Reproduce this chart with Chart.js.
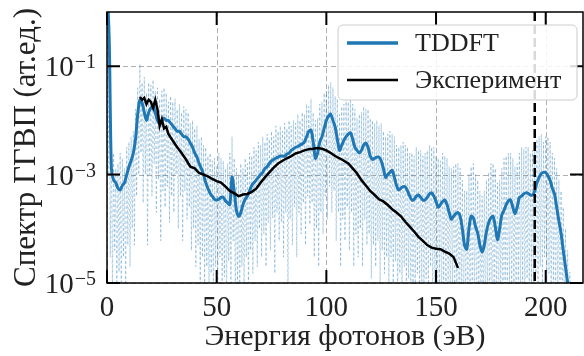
<!DOCTYPE html>
<html>
<head>
<meta charset="utf-8">
<script src="https://cdn.jsdelivr.net/npm/chart.js@4.4.1/dist/chart.umd.min.js"></script>
<style>
  html, body { margin: 0; padding: 0; background: #fff; }
  #wrap { width: 584px; height: 356px; }
</style>
</head>
<body>
<div id="wrap"><canvas id="hhgChart" width="584" height="356"></canvas></div>
<script>
/* DATA */
// TDDFT spectrum on a 1 eV grid starting at 0 eV
const tddftStart = 0;
const tddftStep = 1;
// smoothed curve (thick line)
const tddftSmooth = [
  3.2, 0.32, 1.3e-3, 7.9e-4, 7.1e-4, 5.6e-4, 5.2e-4, 6.3e-4, 7.1e-4, 1.0e-3,
  1.4e-3, 1.8e-3, 2.5e-3, 4.5e-3, 1.3e-2, 2.4e-2, 2.1e-2, 1.4e-2, 1.0e-2, 1.4e-2,
  1.7e-2, 1.8e-2, 1.4e-2, 1.0e-2, 8.9e-3, 1.0e-2, 1.1e-2, 1.0e-2, 1.0e-2, 8.9e-3,
  7.9e-3, 7.1e-3, 6.3e-3, 6.3e-3, 5.6e-3, 5.0e-3, 5.0e-3, 4.5e-3, 3.8e-3, 3.2e-3,
  2.5e-3, 2.1e-3, 1.6e-3, 1.3e-3, 1.0e-3, 7.1e-4, 5.6e-4, 4.5e-4, 4.0e-4, 3.5e-4,
  3.4e-4, 3.5e-4, 3.8e-4, 3.8e-4, 3.3e-4, 3.0e-4, 2.8e-4, 9.0e-4, 5.0e-4, 2.2e-4,
  1.7e-4, 2.0e-4, 2.8e-4, 3.5e-4, 4.0e-4, 5.0e-4, 6.3e-4, 7.1e-4, 7.9e-4, 8.9e-4,
  1.0e-3, 1.1e-3, 1.3e-3, 1.4e-3, 1.6e-3, 1.8e-3, 1.9e-3, 2.0e-3, 2.1e-3, 2.2e-3,
  2.2e-3, 2.2e-3, 2.4e-3, 2.5e-3, 2.8e-3, 3.0e-3, 3.2e-3, 3.3e-3, 3.5e-3, 3.7e-3,
  4.0e-3, 5.0e-3, 6.3e-3, 6.6e-3, 4.0e-3, 2.0e-3, 2.5e-3, 4.0e-3, 5.0e-3, 7.1e-3,
  1.0e-2, 1.2e-2, 1.3e-2, 1.0e-2, 7.6e-3, 4.5e-3, 2.8e-3, 3.5e-3, 4.3e-3, 5.0e-3,
  5.6e-3, 5.9e-3, 4.5e-3, 3.2e-3, 2.8e-3, 2.5e-3, 2.8e-3, 3.5e-3, 3.8e-3, 3.2e-3,
  2.2e-3, 1.9e-3, 2.0e-3, 2.1e-3, 2.1e-3, 1.8e-3, 1.3e-3, 8.9e-4, 1.0e-3, 1.1e-3,
  1.2e-3, 8.9e-4, 6.3e-4, 5.2e-4, 5.6e-4, 6.0e-4, 5.9e-4, 5.0e-4, 4.0e-4, 3.4e-4,
  3.5e-4, 4.0e-4, 4.2e-4, 3.8e-4, 3.4e-4, 3.4e-4, 3.8e-4, 4.4e-4, 4.6e-4, 4.0e-4,
  3.2e-4, 2.5e-4, 2.8e-4, 3.2e-4, 3.4e-4, 2.8e-4, 2.0e-4, 1.5e-4, 1.7e-4, 1.9e-4,
  2.0e-4, 1.7e-4, 1.0e-4, 5.0e-5, 4.2e-5, 1.0e-4, 1.7e-4, 1.6e-4, 1.1e-4, 8.3e-5,
  5.0e-5, 3.7e-5, 5.0e-5, 8.9e-5, 1.3e-4, 1.6e-4, 1.7e-4, 1.1e-4, 6.3e-5, 1.0e-4,
  1.8e-4, 2.2e-4, 2.8e-4, 3.3e-4, 3.4e-4, 2.5e-4, 1.9e-4, 2.5e-4, 3.8e-4, 4.0e-4,
  4.4e-4, 4.6e-4, 4.5e-4, 4.2e-4, 4.2e-4, 5.0e-4, 7.1e-4, 8.9e-4, 1.05e-3, 1.1e-3,
  1.1e-3, 9.5e-4, 7.9e-4, 5.6e-4, 4.4e-4, 2.5e-4, 1.4e-4, 8.3e-5, 4.0e-5, 2.0e-5,
  1.0e-5, 5.0e-6
];
// raw (unsmoothed) spectrum: local maxima at whole eV ...
const tddftRawPeak = [
  3, 0.2, 5e-3, 2.5e-3, 1.3e-3, 1.6e-3, 2.5e-3, 2.0e-3, 1.3e-3, 3.2e-3,
  4e-3, 5e-3, 6.3e-3, 1.6e-2, 4e-2, 1.1e-1, 5e-2, 6.3e-2, 3.2e-2, 5e-2,
  4.5e-2, 5.6e-2, 3.5e-2, 4e-2, 2.5e-2, 3.5e-2, 4e-2, 3.2e-2, 2.2e-2, 2.8e-2,
  2.2e-2, 2.5e-2, 1.6e-2, 2e-2, 1.4e-2, 1.8e-2, 1.6e-2, 1.4e-2, 8.9e-3, 1e-2,
  7.1e-3, 7.9e-3, 4.5e-3, 5e-3, 3.5e-3, 3.2e-3, 2.2e-3, 2.5e-3, 1.8e-3, 2e-3,
  1.4e-3, 2.5e-3, 2e-3, 1.8e-3, 1.3e-3, 1.6e-3, 2.5e-3, 5e-3, 2e-3, 1.3e-3,
  1e-3, 1.6e-3, 1.3e-3, 2e-3, 1.6e-3, 2.5e-3, 2.2e-3, 3.2e-3, 2.8e-3, 4e-3,
  3.5e-3, 5e-3, 4e-3, 5.6e-3, 4.5e-3, 6.3e-3, 5e-3, 7.9e-3, 6.3e-3, 7.9e-3,
  6.3e-3, 8.9e-3, 7.1e-3, 1e-2, 7.9e-3, 1e-2, 8.9e-3, 1.3e-2, 1e-2, 1.4e-2,
  1.3e-2, 2e-2, 1.8e-2, 2.5e-2, 1.4e-2, 1e-2, 1.1e-2, 2e-2, 2.2e-2, 3.2e-2,
  3.5e-2, 4.5e-2, 5e-2, 4e-2, 2.8e-2, 2.5e-2, 1.3e-2, 1.8e-2, 2e-2, 2.5e-2,
  2.2e-2, 2.8e-2, 2e-2, 1.6e-2, 1.1e-2, 1.3e-2, 1.4e-2, 1.8e-2, 1.6e-2, 1.6e-2,
  1.1e-2, 1e-2, 8.9e-3, 1e-2, 7.9e-3, 8.9e-3, 6.3e-3, 5e-3, 5.6e-3, 6.3e-3,
  5.6e-3, 5e-3, 3.5e-3, 3.2e-3, 3.5e-3, 4e-3, 3.5e-3, 3.2e-3, 2.5e-3, 2.5e-3,
  2.2e-3, 3.2e-3, 2.8e-3, 2.8e-3, 2.2e-3, 2.5e-3, 2.8e-3, 3.5e-3, 3.2e-3, 3.2e-3,
  2.2e-3, 2e-3, 1.8e-3, 2.5e-3, 2.2e-3, 2e-3, 1.4e-3, 1.3e-3, 1.4e-3, 1.6e-3,
  1.6e-3, 1.3e-3, 7.9e-4, 5e-4, 5e-4, 1e-3, 1.4e-3, 1.6e-3, 1e-3, 7.9e-4,
  5e-4, 4e-4, 5e-4, 7.9e-4, 1.1e-3, 1.6e-3, 1.6e-3, 1.3e-3, 7.1e-4, 7.9e-4,
  1.3e-3, 2e-3, 2.2e-3, 2.5e-3, 2.5e-3, 2e-3, 1.4e-3, 1.6e-3, 2.5e-3, 3.2e-3,
  3e-3, 3.2e-3, 3.2e-3, 2.5e-3, 2.8e-3, 4e-3, 4.5e-3, 5e-3, 5.6e-3, 4e-3,
  5e-3, 5e-3, 4e-3, 2.5e-3, 2e-3, 1.3e-3, 8e-4, 5e-4, 2.5e-4, 1e-4,
  4e-5, 1.6e-5
];
// ... and local minima half-way between them
const tddftRawDip = [
  1e-3, 3e-5, 6.3e-6, 4e-5, 5e-6, 1.6e-5, 4e-6, 3e-5, 6e-6, 5e-5,
  2e-5, 1e-4, 5e-5, 4e-4, 1e-3, 2.5e-3, 3e-4, 1e-3, 5e-5, 1e-3,
  4e-4, 1.6e-3, 2e-4, 8e-4, 6e-5, 5e-4, 2.5e-4, 6e-4, 1.3e-4, 4e-4,
  2e-4, 1e-3, 1e-4, 4e-4, 6e-5, 5e-4, 1.5e-4, 2.5e-4, 4e-5, 1e-4,
  2e-5, 5e-5, 8e-6, 3e-5, 1e-5, 2e-5, 5e-6, 1.5e-5, 4e-6, 2e-5,
  8e-6, 3e-5, 5e-6, 1.3e-5, 3e-6, 2.5e-5, 1e-5, 6e-5, 4e-6, 1e-5,
  3e-6, 2e-5, 6e-6, 3e-5, 8e-6, 4e-5, 1.5e-5, 6e-5, 2e-5, 1e-4,
  3e-5, 8e-5, 2e-5, 1.3e-4, 4e-5, 1.6e-4, 1.5e-5, 2e-4, 6e-5, 1.3e-4,
  3e-5, 2e-4, 5e-6, 1.5e-4, 5e-5, 2.5e-4, 3e-5, 2e-4, 8e-5, 3e-4,
  5e-5, 4e-4, 1.2e-4, 3e-4, 3e-5, 1e-4, 2e-5, 2e-4, 8e-5, 4e-4,
  1.5e-4, 6e-4, 2e-4, 5e-4, 6e-5, 2e-4, 2e-5, 1.5e-4, 6e-5, 2.5e-4,
  4e-5, 2e-4, 2e-5, 8e-5, 3e-5, 1e-4, 2e-5, 1.5e-4, 5e-5, 8e-5,
  1.2e-5, 5e-5, 2e-5, 6e-5, 8e-6, 4e-5, 1.5e-5, 3e-5, 6e-6, 3e-5,
  1e-5, 2.5e-5, 4e-6, 1.5e-5, 6e-6, 2e-5, 5e-6, 1.2e-5, 4e-6, 1e-5,
  3e-6, 1.5e-5, 5e-6, 1e-5, 3e-6, 1.2e-5, 5e-6, 2e-5, 3e-6, 1e-5,
  4e-6, 8e-6, 3e-6, 1e-5, 4e-6, 6e-6, 3e-6, 8e-6, 3e-6, 6e-6,
  2.5e-6, 5e-6, 2e-6, 4e-6, 2.5e-6, 6e-6, 3e-6, 5e-6, 2e-6, 4e-6,
  2e-6, 3e-6, 2e-6, 5e-6, 3e-6, 6e-6, 2.5e-6, 4e-6, 2e-6, 5e-6,
  3e-6, 8e-6, 3e-6, 1e-5, 4e-6, 6e-6, 2.5e-6, 8e-6, 4e-6, 1e-5,
  3e-6, 1.2e-5, 5e-6, 1e-5, 4e-6, 1.5e-5, 6e-6, 2e-5, 8e-6, 3e-5,
  1e-5, 1.5e-5, 5e-6, 8e-6, 3e-6, 4e-6, 2e-6, 3e-6, 1.6e-6, 2e-6,
  1.3e-6, 1e-6
];
// experiment
const expEnergy = [
  15, 16, 17, 18, 19, 20, 21, 22, 23, 24, 25, 26, 27, 28,
  30, 32, 34, 36, 38, 40, 42, 44, 46, 48, 50, 52, 54, 56, 58, 60,
  62, 64, 66, 68, 70, 72, 74, 76, 78, 80, 82, 84, 86, 88, 90, 92,
  94, 96, 98, 100, 102, 104, 106, 108, 110, 112, 114, 116, 118, 120, 122, 124,
  126, 128, 130, 132, 134, 136, 138, 140, 142, 144, 146, 148, 150, 152, 154, 156,
  158, 160
];
const expSignal = [
  2.7e-2, 2.4e-2, 2.6e-2, 2.0e-2, 2.4e-2, 2.2e-2, 1.7e-2, 2.4e-2, 1.6e-2, 7.9e-3, 1.05e-2, 7.1e-3, 7.6e-3, 5.6e-3,
  4.2e-3, 3.2e-3, 2.5e-3, 1.9e-3, 1.4e-3, 1.3e-3, 1.07e-3, 1.0e-3, 9.3e-4, 8.3e-4, 7.6e-4, 7.1e-4, 6.0e-4, 5.0e-4, 4.5e-4, 4.0e-4,
  4.3e-4, 4.4e-4, 4.8e-4, 5.5e-4, 7.1e-4, 8.9e-4, 1.1e-3, 1.35e-3, 1.6e-3, 1.8e-3, 2.0e-3, 2.2e-3, 2.45e-3, 2.6e-3, 2.8e-3, 2.95e-3,
  3.0e-3, 3.1e-3, 3.0e-3, 2.8e-3, 2.5e-3, 2.2e-3, 2.0e-3, 1.8e-3, 1.6e-3, 1.3e-3, 1.05e-3, 7.9e-4, 6.3e-4, 5.0e-4, 4.2e-4, 3.5e-4,
  3.2e-4, 2.75e-4, 2.3e-4, 2.0e-4, 1.7e-4, 1.35e-4, 1.1e-4, 8.9e-5, 7.1e-5, 6.0e-5, 5.0e-5, 4.5e-5, 4.3e-5, 4.2e-5, 3.8e-5, 3.5e-5,
  3.0e-5, 1.9e-5
];
const cutoffEnergy = 195;
const xTicks = [0, 50, 100, 150, 200];
const yTicks = [1e-5, 1e-3, 1e-1];
const yTickExp = ["\u22125", "\u22123", "\u22121"];

const BLUE = "#1f77b4";
const SERIF = '"Liberation Serif", "DejaVu Serif", serif';

const onGrid = (arr) => arr.map((v, i) => ({ x: tddftStart + i * tddftStep, y: v }));
// interleave peaks (whole eV) and dips (half eV) into one raw trace
const rawPoints = [];
tddftRawPeak.forEach((v, i) => {
  const e = tddftStart + i * tddftStep;
  rawPoints.push({ x: e, y: v });
  rawPoints.push({ x: e + tddftStep / 2, y: tddftRawDip[i] });
});

/* DECORATIONS: grid, frame, inward ticks, y labels, legend */
const decorations = {
  id: "decorations",
  beforeDatasetsDraw(chart) {
    const { ctx, chartArea: a, scales: { x, y } } = chart;
    ctx.save();
    ctx.strokeStyle = "#b0b0b0";
    ctx.lineWidth = 1;
    ctx.setLineDash([5, 3]);
    xTicks.forEach((v) => {
      const px = Math.round(x.getPixelForValue(v)) + 0.5;
      ctx.beginPath(); ctx.moveTo(px, a.top); ctx.lineTo(px, a.bottom); ctx.stroke();
    });
    yTicks.forEach((v) => {
      const py = Math.round(y.getPixelForValue(v)) + 0.5;
      ctx.beginPath(); ctx.moveTo(a.left, py); ctx.lineTo(a.right, py); ctx.stroke();
    });
    ctx.restore();
  },
  afterDatasetsDraw(chart) {
    const { ctx, chartArea: a, scales: { x, y } } = chart;
    ctx.save();

    // cutoff marker
    const cx = x.getPixelForValue(cutoffEnergy);
    ctx.strokeStyle = "#000";
    ctx.lineWidth = 2.5;
    ctx.setLineDash([9, 4]);
    ctx.beginPath(); ctx.moveTo(cx, a.top); ctx.lineTo(cx, a.bottom); ctx.stroke();
    ctx.setLineDash([]);

    // inward ticks
    const tl = 13;
    ctx.lineWidth = 2;
    xTicks.forEach((v) => {
      const px = x.getPixelForValue(v);
      ctx.beginPath();
      ctx.moveTo(px, a.bottom); ctx.lineTo(px, a.bottom - tl);
      ctx.moveTo(px, a.top); ctx.lineTo(px, a.top + tl);
      ctx.stroke();
    });
    yTicks.forEach((v) => {
      const py = y.getPixelForValue(v);
      ctx.beginPath();
      ctx.moveTo(a.left, py); ctx.lineTo(a.left + tl, py);
      ctx.moveTo(a.right, py); ctx.lineTo(a.right - tl, py);
      ctx.stroke();
    });

    // frame
    ctx.lineWidth = 1.5;
    ctx.strokeRect(a.left, a.top, a.right - a.left, a.bottom - a.top);

    // y tick labels 10^n
    ctx.fillStyle = "#222";
    ctx.textBaseline = "alphabetic";
    ctx.textAlign = "right";
    yTicks.forEach((v, i) => {
      const py = y.getPixelForValue(v);
      ctx.font = "20px " + SERIF;
      const ew = ctx.measureText(yTickExp[i]).width;
      ctx.fillText(yTickExp[i], 96, py + 2);
      ctx.font = "29px " + SERIF;
      ctx.fillText("10", 96 - ew - 1, py + 10);
    });

    // legend
    const lx = 338, ly = 25, lw = 239, lh = 75;
    ctx.beginPath();
    ctx.roundRect(lx, ly, lw, lh, 5);
    ctx.fillStyle = "rgba(255,255,255,0.85)";
    ctx.fill();
    ctx.strokeStyle = "#cccccc";
    ctx.lineWidth = 1;
    ctx.stroke();
    const items = [
      { label: "TDDFT", color: BLUE, width: 3.5, yy: 43 },
      { label: "Эксперимент", color: "#000", width: 2.5, yy: 80 },
    ];
    ctx.textAlign = "left";
    ctx.textBaseline = "middle";
    ctx.font = "26px " + SERIF;
    items.forEach((it) => {
      ctx.strokeStyle = it.color;
      ctx.lineWidth = it.width;
      ctx.beginPath(); ctx.moveTo(347, it.yy); ctx.lineTo(398, it.yy); ctx.stroke();
      ctx.fillStyle = "#222";
      ctx.fillText(it.label, 415, it.yy + 1);
    });
    ctx.restore();
  },
};

/* CHART */
new Chart(document.getElementById("hhgChart"), {
  type: "line",
  data: {
    datasets: [
      {
        label: "Эксперимент",
        data: expEnergy.map((e, i) => ({ x: e, y: expSignal[i] })),
        borderColor: "#000",
        borderWidth: 2.5,
        pointRadius: 0,
        order: 1,
      },
      {
        label: "TDDFT",
        data: onGrid(tddftSmooth),
        borderColor: BLUE,
        borderWidth: 3,
        tension: 0.3,
        pointRadius: 0,
        order: 2,
      },
      {
        label: "raw",
        data: rawPoints,
        borderColor: "rgba(31,119,180,0.32)",
        borderWidth: 1,
        borderDash: [3, 2],
        pointRadius: 0,
        order: 3,
      },
    ],
  },
  options: {
    responsive: false,
    animation: false,
    devicePixelRatio: 1,
    layout: { padding: { top: 12, right: 1, left: 0, bottom: 0 } },
    plugins: { legend: { display: false }, tooltip: { enabled: false } },
    scales: {
      x: {
        type: "linear",
        min: 0,
        max: 217,
        afterBuildTicks: (s) => { s.ticks = xTicks.map((v) => ({ value: v })); },
        afterFit: (s) => { s.height = 73; },
        grid: { display: false },
        border: { display: false },
        ticks: { color: "#222", padding: 0, font: { family: SERIF, size: 29 } },
        title: {
          display: true,
          text: "Энергия фотонов (эВ)",
          color: "#222",
          padding: { top: 0, bottom: 1 },
          font: { family: SERIF, size: 30 },
        },
      },
      y: {
        type: "logarithmic",
        min: 1e-5,
        max: 1,
        afterBuildTicks: (s) => { s.ticks = yTicks.map((v) => ({ value: v })); },
        afterFit: (s) => { s.width = 107; },
        grid: { display: false },
        border: { display: false },
        ticks: { display: false },
        title: {
          display: true,
          text: "Спектр ГГВП (ат.ед.)",
          color: "#222",
          padding: { top: 8, bottom: 0 },
          font: { family: SERIF, size: 31 },
        },
      },
    },
  },
  plugins: [decorations],
});
</script>
</body>
</html>
